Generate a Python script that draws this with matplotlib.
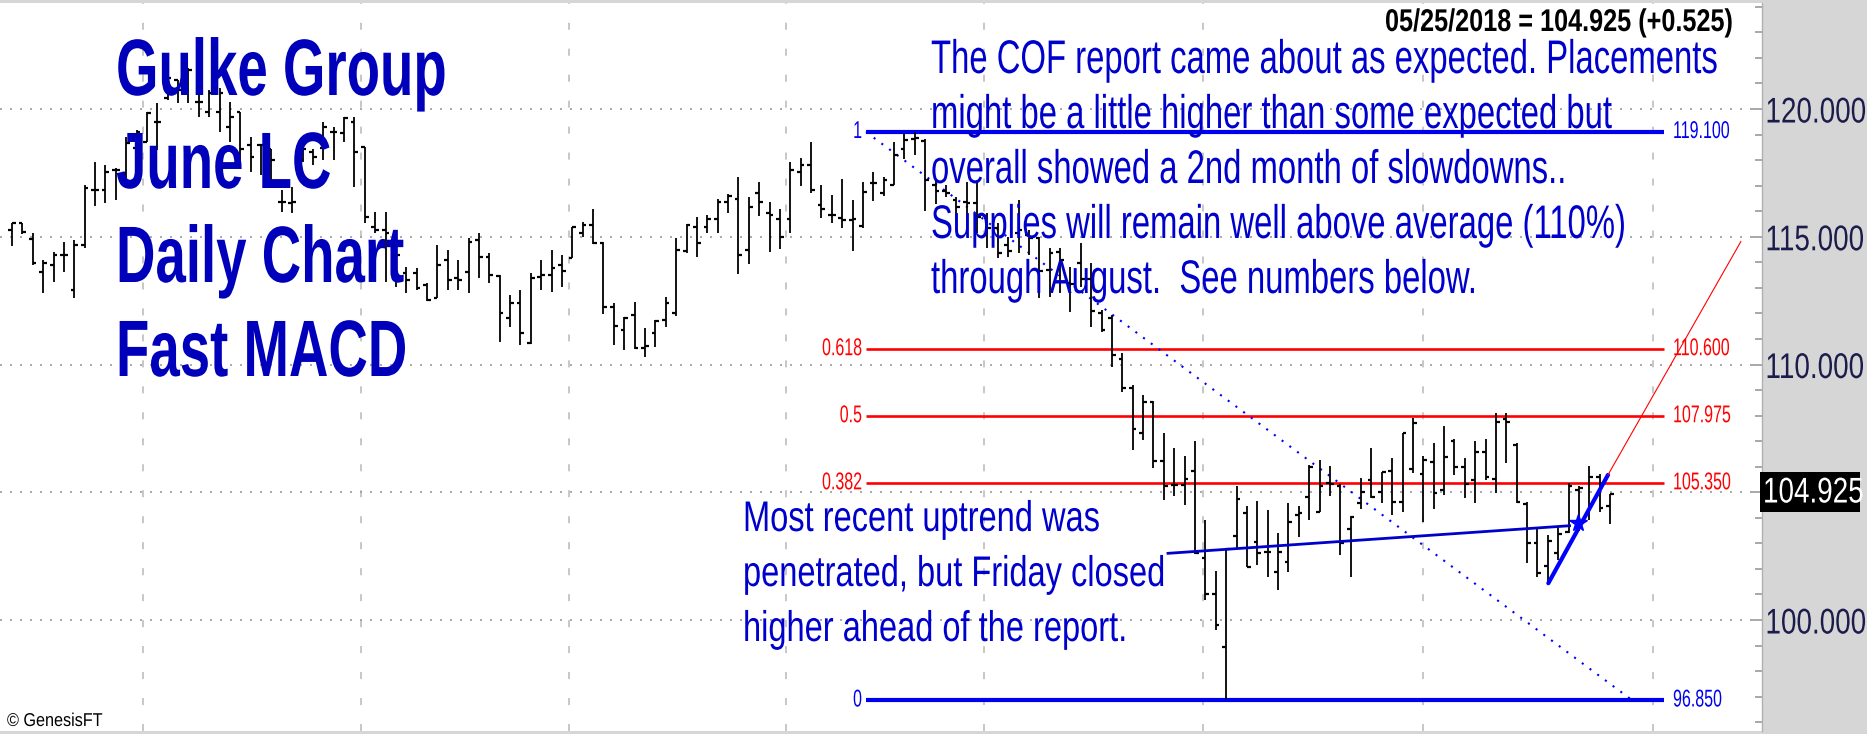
import types
import numpy as np
import matplotlib
matplotlib.use("Agg")
import matplotlib.pyplot as plt
from matplotlib import font_manager as fm
from matplotlib.patches import Rectangle
from matplotlib.patheffects import AbstractPathEffect
from matplotlib.transforms import Affine2D, Bbox

# ---------------- data ----------------
highs = [115.55, 115.55, 115.13, 114.09, 114.42, 114.81, 114.87, 117.03, 117.94, 117.81,
         117.68, 118.92, 119.18, 119.90, 120.22, 121.46, 121.14, 121.59, 120.74, 120.74,
         120.81, 120.29, 119.90, 118.92, 118.59, 118.42, 116.83, 116.96, 118.50, 118.42,
         119.50, 119.31, 119.70, 119.70, 118.50, 115.98, 115.98, 114.61, 113.83, 113.76,
         113.18, 114.68, 114.48, 114.09, 114.94, 115.13, 114.38, 113.50, 112.72, 112.92,
         113.57, 114.09, 114.48, 114.29, 115.39, 115.59, 116.07, 114.81, 112.39, 111.87,
         112.46, 111.42, 111.74, 112.65, 114.94, 115.50, 115.79, 115.85, 116.46, 116.67,
         117.35, 116.57, 117.16, 116.37, 116.07, 117.94, 118.07, 118.72, 117.02, 116.63,
         117.25, 116.44, 117.16, 117.55, 117.35, 118.72, 119.05, 119.10, 118.81, 117.22,
         117.03, 116.54, 117.16, 117.16, 115.92, 115.53, 115.00, 116.44, 115.26, 115.00,
         114.55, 114.55, 113.83, 114.77, 113.96, 112.13, 111.94, 110.44, 109.20, 108.81,
         108.58, 107.33, 106.72, 106.42, 107.02, 103.91, 101.93, 102.81, 105.24, 104.46,
         104.67, 104.30, 103.42, 104.57, 104.46, 106.07, 106.26, 106.03, 105.32, 104.07,
         105.54, 106.72, 105.81, 106.33, 107.33, 107.89, 106.42, 106.94, 107.59, 107.07,
         106.33, 107.02, 107.07, 108.11, 108.11, 106.91, 104.63, 103.65, 103.33, 103.68,
         105.35, 105.24, 106.03, 105.71, 104.93]
lows = [114.64, 115.11, 113.90, 112.79, 113.24, 113.63, 112.59, 114.55, 116.22, 116.31,
        116.44, 117.22, 117.74, 118.72, 118.40, 120.35, 120.22, 120.22, 119.70, 119.70,
        119.11, 118.72, 117.94, 117.55, 117.42, 116.96, 115.98, 115.92, 117.94, 117.81,
        118.00, 118.00, 118.72, 116.96, 115.53, 115.13, 113.24, 113.05, 112.79, 112.92,
        112.50, 112.59, 112.92, 112.92, 112.79, 113.37, 113.18, 110.89, 111.48, 110.76,
        110.80, 112.92, 112.85, 113.05, 114.15, 115.00, 114.72, 111.98, 110.76, 110.57,
        110.59, 110.28, 110.69, 111.48, 111.90, 114.35, 114.22, 115.13, 115.13, 115.92,
        113.54, 113.93, 115.81, 114.42, 114.51, 115.13, 116.99, 116.70, 115.72, 115.53,
        115.33, 114.45, 115.33, 116.41, 116.60, 117.03, 118.03, 118.20, 116.02, 116.28,
        116.54, 115.66, 115.79, 115.13, 114.55, 114.16, 114.20, 114.38, 114.29, 112.59,
        112.65, 112.81, 112.07, 113.05, 111.48, 111.28, 109.92, 108.94, 106.65, 107.05,
        105.94, 104.70, 104.85, 104.50, 102.58, 100.78, 99.61, 96.85, 102.81, 102.06,
        102.15, 101.67, 101.17, 101.89, 103.26, 103.91, 104.24, 104.85, 102.55, 101.67,
        104.33, 104.76, 104.59, 104.11, 104.24, 105.77, 103.85, 104.33, 104.89, 105.67,
        104.76, 104.59, 105.48, 104.98, 106.16, 104.59, 102.24, 101.70, 101.41, 102.35,
        103.42, 103.50, 103.91, 104.24, 103.76]
opens = [115.27, 115.55, 114.91, 113.61, 113.90, 114.29, 112.92, 114.68, 116.83, 116.83,
         117.61, 117.48, 118.46, 118.72, 119.50, 120.42, 121.14, 121.01, 120.29, 119.90,
         119.90, 119.31, 119.90, 118.59, 118.59, 118.42, 116.37, 116.31, 118.00, 118.33,
         118.46, 119.11, 119.05, 119.50, 118.50, 115.40, 115.27, 114.55, 113.57, 113.57,
         113.11, 112.59, 114.09, 113.37, 113.63, 114.87, 114.22, 113.46, 111.81, 112.39,
         110.83, 113.44, 113.50, 113.89, 114.15, 115.16, 115.46, 114.74, 112.24, 111.35,
         111.94, 110.63, 111.22, 111.74, 112.00, 114.46, 115.37, 115.37, 115.68, 116.37,
         116.46, 114.48, 116.73, 115.94, 115.68, 115.68, 117.55, 117.81, 116.24, 115.85,
         115.72, 115.66, 115.42, 117.09, 116.73, 117.03, 118.42, 118.81, 118.76, 117.03,
         116.80, 116.44, 116.37, 116.31, 115.72, 115.33, 114.68, 115.13, 115.07, 114.94,
         113.70, 114.42, 113.18, 113.96, 113.33, 112.03, 111.81, 110.20, 109.07, 107.31,
         108.55, 106.24, 105.28, 105.28, 105.85, 102.41, 101.02, 98.96, 103.29, 104.20,
         103.07, 102.67, 101.89, 102.28, 104.11, 104.83, 104.24, 105.35, 105.24, 103.55,
         104.57, 105.48, 105.02, 105.84, 104.63, 105.90, 105.71, 106.20, 105.09, 107.02,
         105.98, 105.48, 106.59, 105.51, 107.85, 106.85, 104.54, 103.00, 102.11, 102.61,
         103.46, 105.09, 104.17, 105.61, 104.46]
closes = [115.53, 115.20, 113.96, 113.96, 114.29, 114.29, 114.68, 116.90, 116.83, 117.55,
          117.61, 118.66, 119.11, 119.83, 119.50, 121.20, 120.74, 121.53, 120.29, 120.61,
          120.61, 119.70, 118.42, 118.14, 118.59, 118.00, 116.37, 116.37, 118.42, 118.11,
          119.31, 119.11, 119.64, 118.33, 115.79, 115.27, 115.13, 114.29, 113.31, 112.98,
          112.53, 113.90, 113.31, 113.31, 114.81, 114.22, 113.50, 112.00, 112.39, 111.22,
          113.37, 113.50, 113.76, 113.67, 115.37, 115.46, 114.77, 112.26, 111.51, 111.81,
          110.63, 110.72, 111.72, 112.42, 114.48, 115.46, 114.77, 115.68, 116.37, 116.59,
          114.29, 116.15, 116.37, 115.85, 115.00, 117.61, 117.81, 116.83, 116.07, 115.85,
          115.66, 115.68, 116.76, 117.09, 117.22, 118.20, 118.79, 118.85, 117.22, 116.80,
          116.73, 116.15, 116.31, 115.79, 115.33, 114.38, 114.46, 115.26, 114.94, 113.67,
          114.38, 114.09, 113.15, 113.33, 112.11, 111.35, 110.37, 109.07, 107.46, 108.55,
          106.24, 105.24, 105.28, 105.51, 102.61, 101.02, 99.80, 102.77, 104.72, 102.09,
          102.61, 102.67, 102.67, 103.85, 104.20, 105.98, 105.24, 105.32, 103.00, 104.02,
          105.02, 104.83, 105.81, 104.63, 107.31, 107.70, 106.26, 104.96, 106.39, 105.98,
          105.32, 106.59, 105.58, 107.76, 107.76, 104.63, 103.00, 101.85, 103.10, 103.37,
          105.24, 105.15, 105.61, 104.40, 104.925]

month_breaks = [12.6, 33.6, 53.7, 74.6, 93.7, 114.8, 136.0, 158.1]   # bar-index of month starts
grid_prices = [100, 105, 110, 115, 120]
ytick_labels = ["100.000", "", "110.000", "115.000", "120.000"]   # 105 sits under the last-price box

fib_ratios = ["1", "0.618", "0.5", "0.382", "0"]
fib_values = [119.100, 110.600, 107.975, 105.350, 96.850]
fib_label_values = ["119.100", "110.600", "107.975", "105.350", "96.850"]
fib_span = [82.3, 159.2]
fib_diag_x = [82.3, 156.0]
fib_diag_y = [119.10, 96.90]

trend_flat_x = [111.4, 150.1]
trend_flat_y = [102.61, 103.69]
trend_up_x = [148.05, 153.8]
trend_up_y = [101.44, 105.68]
trend_ext_x = [153.8, 166.6]
trend_ext_y = [105.68, 114.81]
cross_mark = (150.9, 103.78)

last_price = 104.925
header = "05/25/2018 = 104.925 (+0.525)"
title_lines = ["Gulke Group", "June LC", "Daily Chart", "Fast MACD"]
cof_lines = ["The COF report came about as expected. Placements",
             "might be a little higher than some expected but",
             "overall showed a 2nd month of slowdowns..",
             "Supplies will remain well above average (110%)",
             "through August.  See numbers below."]
uptrend_lines = ["Most recent uptrend was",
                 "penetrated, but Friday closed",
                 "higher ahead of the report."]
credit = "\u00a9 GenesisFT"

# ---------------- figure ----------------
W, H, DPI = 1867, 734, 100
CAP = 0.70
avail = {f.name for f in fm.fontManager.ttflist}
FONT = "Liberation Sans Narrow" if "Liberation Sans Narrow" in avail else "Liberation Sans"


class Squeeze(AbstractPathEffect):
    """Condense glyphs horizontally about a fixed display x (the text stays real text)."""

    def __init__(self, sx, x0):
        super().__init__()
        self.sx = sx
        self.x0 = x0

    def draw_path(self, renderer, gc, tpath, affine, rgbFace=None):
        aff = affine + Affine2D().translate(-self.x0, 0).scale(self.sx, 1.0).translate(self.x0, 0)
        renderer.draw_path(gc, tpath, aff, rgbFace)


def squeeze(t, sx, x0):
    """Apply the condensing effect and report the condensed extent."""
    t.set_path_effects([Squeeze(sx, x0)])
    orig = t.get_window_extent

    def gwe(self, renderer=None, dpi=None):
        bb = orig(renderer, dpi)
        k = (dpi / DPI) if dpi else 1.0
        xa = x0 * k
        return Bbox.from_extents(xa + (bb.x0 - xa) * sx, bb.y0, xa + (bb.x1 - xa) * sx, bb.y1)

    t.get_window_extent = types.MethodType(gwe, t)
    return t


fig = plt.figure(figsize=(W / DPI, H / DPI), dpi=DPI, facecolor="#d6d6d6")
ax = fig.add_axes([0, 3 / H, 1762 / W, 728 / H])
ax.set_facecolor("white")
ax.set_xlim(-1.156, 168.64)
ax.set_ylim(95.656, 124.149)
renderer = fig.canvas.get_renderer()


def fx(px):
    return px / W


def fy(py):
    return 1 - py / H


def pts(cap_px):
    return cap_px / CAP * 72 / DPI


def squeeze_for(s, target_w, cap_px, weight="normal"):
    t = fig.text(0, 0, s, fontsize=pts(cap_px), family=FONT, weight=weight)
    w = t.get_window_extent(renderer).width
    t.remove()
    return min(1.0, target_w / w)


def line_group(lines, x_px, baselines, cap_px, sx, color, weight="normal", ha="left"):
    for line, base in zip(lines, baselines):
        t = fig.text(fx(x_px), fy(base), line, color=color, fontsize=pts(cap_px),
                     family=FONT, weight=weight, ha=ha, va="baseline", zorder=6)
        squeeze(t, sx, x_px)


# grid
for xb in month_breaks:
    ax.axvline(xb, color="#b8b8b8", lw=1.1, dashes=(4.6, 12.4), zorder=0)
for yv in grid_prices:
    ax.axhline(yv, color="#9c9c9c", lw=1.2, dashes=(1.2, 4.8), zorder=0)

# fib levels
for r, v in zip(fib_ratios, fib_values):
    blue = r in ("1", "0")
    ax.plot(fib_span, [v, v], color="#0000f0" if blue else "#ff0000",
            lw=3.0 if blue else 1.9, zorder=1, solid_capstyle="butt")
ax.plot(fib_diag_x, fib_diag_y, color="#0000ff", lw=1.5, dashes=(1.0, 3.6), zorder=1)

fib_sx = squeeze_for("0.618", 40, 17)
x_left = ax.transData.transform((fib_span[0], 0))[0] - 4
x_right = ax.transData.transform((fib_span[1], 0))[0] + 9
for r, v, lab in zip(fib_ratios, fib_values, fib_label_values):
    blue = r in ("1", "0")
    col = "#0000f0" if blue else "#ff0000"
    ypx = H - ax.transData.transform((0, v))[1]
    for s, xp, ha in ((r, x_left, "right"), (lab, x_right, "left")):
        t = fig.text(fx(xp), fy(ypx), s, color=col, fontsize=pts(17), family=FONT,
                     ha=ha, va="center", zorder=6)
        squeeze(t, fib_sx, xp)

# OHLC bars
x = np.arange(len(closes))
ax.vlines(x, lows, highs, color="black", lw=1.3, zorder=2)
ax.hlines(opens, x - 0.36, x, color="black", lw=1.6, zorder=2)
ax.hlines(closes, x, x + 0.36, color="black", lw=1.6, zorder=2)

# trend lines
ax.plot(trend_flat_x, trend_flat_y, color="#0000cc", lw=2.0, zorder=3)
ax.plot(trend_up_x, trend_up_y, color="#0000ff", lw=3.0, zorder=3, solid_capstyle="round")
ax.plot(trend_ext_x, trend_ext_y, color="#ff0000", lw=0.8, zorder=3)
ax.plot([cross_mark[0]], [cross_mark[1]], marker="*", ms=13, color="#0000ff", zorder=3)

# axes styling
for s in ("left", "top", "bottom"):
    ax.spines[s].set_visible(False)
ax.spines["right"].set_color("#b0b0b0")
ax.spines["right"].set_linewidth(1.0)
ax.set_xticks([])
ax.yaxis.tick_right()
ax.set_yticks(grid_prices)
ax.set_yticklabels(ytick_labels)
ax.set_yticks(np.arange(96, 125, 1), minor=True)
ax.tick_params(axis="y", which="major", direction="in", length=9, width=1.4,
               color="#a8a8a8", pad=2.5, labelsize=pts(25), labelcolor="#1c1c4c")
ax.tick_params(axis="y", which="minor", direction="in", length=5, width=1.4, color="#a8a8a8")
tick_x0 = 1762 + 2.5 * DPI / 72
for t in ax.get_yticklabels():
    t.set_family(FONT)
    squeeze(t, 0.78, tick_x0)

# last price box
fig.patches.append(Rectangle((fx(1760), fy(512)), (1860 - 1760) / W, 40 / H,
                             transform=fig.transFigure, facecolor="black",
                             edgecolor="none", zorder=5))
tp = fig.text(fx(1763), fy(493), f"{last_price:.3f}", color="white", fontsize=pts(25),
              family=FONT, ha="left", va="center", zorder=6)
squeeze(tp, 0.78, 1763)

# header
hsx = squeeze_for(header, 348, 22, weight="bold")
line_group([header], 1733, [31], 22, hsx, "black", weight="bold", ha="right")

# big title
tsx = squeeze_for(title_lines[0], 331, 56, weight="bold")
line_group(title_lines, 116, [95, 188, 282, 376], 56, tsx, "#0000bb", weight="bold")

# COF annotation
csx = squeeze_for(cof_lines[0], 787, 33)
line_group(cof_lines, 931, [73, 128, 183, 238, 293], 33, csx, "#0000cc")

# uptrend annotation
usx = squeeze_for(uptrend_lines[1], 422, 30)
line_group(uptrend_lines, 743, [531, 586, 641], 30, usx, "#0000cc")

# credit
gsx = squeeze_for(credit, 95, 13)
line_group([credit], 7, [726], 13, gsx, "black")

fig.savefig("out.png", dpi=DPI, facecolor=fig.get_facecolor())
